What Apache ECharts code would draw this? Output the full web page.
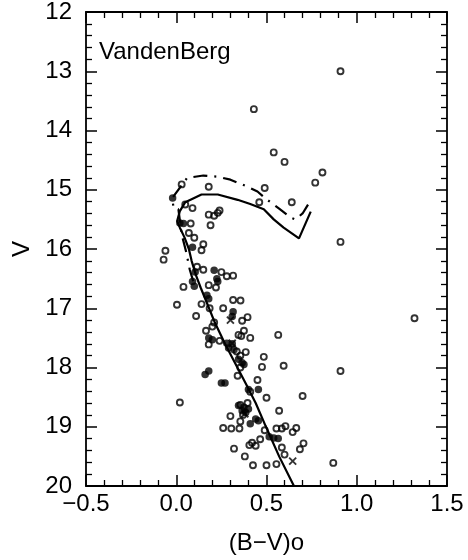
<!DOCTYPE html>
<html>
<head>
<meta charset="utf-8">
<script src="https://cdn.jsdelivr.net/npm/echarts@6.0.0/dist/echarts.min.js"></script>
<style>
html,body{margin:0;padding:0;background:#fff;}
#main{width:468px;height:560px;}
</style>
</head>
<body>
<div id="main"></div>
<script>
// (B-V)o, V pairs
var openStars = [
	[0.91,13.0],[0.43,13.64],[0.54,14.37],[0.60,14.53],[0.81,14.71],[0.77,14.88],
	[0.03,14.91],[0.18,14.95],[0.49,14.97],[0.46,15.21],[0.64,15.21],[0.91,15.88],
	[1.32,17.17],[0.91,18.06],[0.87,19.61],
	[0.05,15.25],[0.09,15.31],[0.18,15.42],[0.21,15.44],[0.23,15.39],[0.24,15.35],
	[0.19,15.60],[0.08,15.57],[0.07,15.73],[0.10,15.81],[0.15,15.92],[0.14,16.02],
	[-0.06,16.03],[-0.07,16.18],
	[0.115,16.30],[0.15,16.35],[0.25,16.39],[0.28,16.46],[0.315,16.45],[0.04,16.64],
	[0.18,16.61],[0.22,16.65],[0.315,16.86],[0.356,16.87],[0.004,16.94],[0.14,16.93],
	[0.185,17.0],[0.26,17.0],[0.11,17.13],[0.365,17.21],[0.395,17.15],[0.21,17.24],
	[0.20,17.31],[0.165,17.38],[0.345,17.45],[0.375,17.38],[0.36,17.47],[0.41,17.5],
	[0.565,17.45],[0.24,17.55],[0.18,17.61],[0.335,17.73],[0.385,17.74],[0.355,17.8],
	[0.485,17.82],[0.475,17.99],[0.595,17.97],[0.355,18.0],[0.34,18.14],[0.45,18.21],
	[0.41,18.41],[0.50,18.51],[0.70,18.48],[0.02,18.59],[0.355,18.63],[0.395,18.6],
	[0.57,18.73],[0.30,18.82],[0.355,18.91],[0.37,18.8],[0.26,19.02],[0.305,19.03],
	[0.35,19.03],[0.49,19.06],[0.555,19.03],[0.585,19.03],[0.605,18.99],[0.645,19.09],
	[0.665,19.02],[0.465,19.21],[0.42,19.27],[0.405,19.31],[0.44,19.32],[0.32,19.37],
	[0.585,19.35],[0.705,19.28],[0.685,19.38],[0.38,19.5],[0.60,19.47],[0.425,19.65],
	[0.50,19.65],[0.555,19.63]
];

var filledStars = [
	[-0.02,15.14],[0.02,15.56],[0.04,15.57],[0.09,15.97],[0.21,16.36],[0.105,16.39],
	[0.225,16.5],[0.23,16.55],[0.09,16.55],[0.10,16.63],[0.17,16.78],[0.18,16.84],
	[0.315,17.06],[0.31,17.14],[0.18,17.5],[0.20,17.53],[0.28,17.59],[0.29,17.67],
	[0.31,17.6],[0.32,17.7],[0.345,17.86],[0.365,17.92],[0.375,17.95],[0.16,18.12],
	[0.18,18.06],[0.25,18.26],[0.27,18.26],[0.455,18.37],[0.40,18.37],[0.345,18.64],
	[0.375,18.67],[0.40,18.7],[0.385,18.76],[0.365,18.73],[0.41,18.95],[0.44,18.87],
	[0.455,18.9],[0.515,19.17],[0.54,19.19],[0.565,19.2]
];

var crossStars = [[0.30,17.2],[0.31,17.59],[0.38,18.78],[0.645,19.58]];

// isochrones
var isoSolid = [
	[0.745,15.37],[0.68,15.82],[0.595,15.64],[0.54,15.5],[0.485,15.33],[0.41,15.24],
	[0.34,15.17],[0.23,15.08],[0.14,15.08],[0.05,15.21],[0.02,15.36],[0.005,15.53],
	[0.02,15.64],[0.045,15.8],[0.07,16.0],[0.085,16.2],[0.11,16.45],[0.135,16.65],
	[0.175,16.95],[0.215,17.25],[0.27,17.6],[0.33,17.95],[0.39,18.3],[0.44,18.6],
	[0.494,18.98],[0.57,19.5],[0.652,20.0]
];
var isoDashDot = [
	[0.73,15.25],[0.70,15.4],[0.66,15.5],[0.635,15.47],[0.57,15.32],[0.50,15.16],
	[0.45,15.03],[0.38,14.93],[0.30,14.83],[0.23,14.78],[0.15,14.76],[0.06,14.80],
	[-0.022,15.14],[-0.015,15.31],[0.012,15.33],[0.03,15.75],[0.055,16.05],
	[0.075,16.35],[0.105,16.65]
];

var xTicks = {min:-0.5, max:1.5, step:0.5};
var yTicks = {min:12, max:20, step:1};

var black = '#000';
var font = 'Liberation Sans, Arial, sans-serif';

function xAxisDef(pos, labels){
	return {
		type:'value', position:pos, min:xTicks.min, max:xTicks.max, interval:xTicks.step,
		axisLine:{show:true, onZero:false, lineStyle:{color:black, width:1.8}},
		axisTick:{show:true, inside:true, length:11, lineStyle:{color:black, width:1.5}},
		minorTick:{show:true, splitNumber:5, length:6, lineStyle:{color:black, width:1.3}},
		splitLine:{show:false},
		axisLabel:{show:labels, color:black, fontSize:24, fontFamily:font, margin:6,
			formatter:function(v){ return v.toFixed(1).replace('-', '\u2212'); }},
		name: labels ? '(B\u2212V)o' : '',
		nameLocation:'middle', nameGap:45,
		nameTextStyle:{color:black, fontSize:24, fontFamily:font}
	};
}
function yAxisDef(pos, labels){
	return {
		type:'value', position:pos, min:yTicks.min, max:yTicks.max, interval:yTicks.step, inverse:true,
		axisLine:{show:true, onZero:false, lineStyle:{color:black, width:1.8}},
		axisTick:{show:true, inside:true, length:11, lineStyle:{color:black, width:1.5}},
		minorTick:{show:true, splitNumber:5, length:6, lineStyle:{color:black, width:1.3}},
		splitLine:{show:false},
		axisLabel:{show:labels, color:black, fontSize:24, fontFamily:font, margin:14},
		name: labels ? 'V' : '',
		nameLocation:'middle', nameGap:50, nameRotate:90,
		nameTextStyle:{color:black, fontSize:24, fontFamily:font}
	};
}

var myChart = echarts.init(document.getElementById('main'), null, {renderer:'canvas'});
var option = {
	animation:false,
	backgroundColor:'#fff',
	title:{
		text:'VandenBerg', left:99, top:40, padding:0,
		textStyle:{color:black, fontSize:24, fontWeight:'normal', fontFamily:font}
	},
	grid:{left:86, right:21, top:12, bottom:69, containLabel:false},
	xAxis:[xAxisDef('bottom', true), xAxisDef('top', false)],
	yAxis:[yAxisDef('left', true), yAxisDef('right', false)],
	series:[
		{
			type:'line', data:isoSolid, showSymbol:false, symbol:'none', silent:true,
			lineStyle:{color:black, width:2.2}
		},
		{
			type:'line', data:isoDashDot, showSymbol:false, symbol:'none', silent:true,
			lineStyle:{color:black, width:2.2, type:[14,7,2,7]}
		},
		{
			type:'scatter', data:openStars, symbol:'circle', symbolSize:6,
			itemStyle:{color:'rgba(0,0,0,0)', borderColor:black, borderWidth:1.9}
		},
		{
			type:'scatter', data:filledStars, symbol:'circle', symbolSize:7.5,
			itemStyle:{color:black}
		},
		{
			type:'scatter', data:crossStars, symbol:'path://M0,0L10,10M10,0L0,10', symbolSize:7,
			itemStyle:{color:'rgba(0,0,0,0)', borderColor:black, borderWidth:1.9}
		}
	]
};
myChart.setOption(option);
</script>
</body>
</html>
